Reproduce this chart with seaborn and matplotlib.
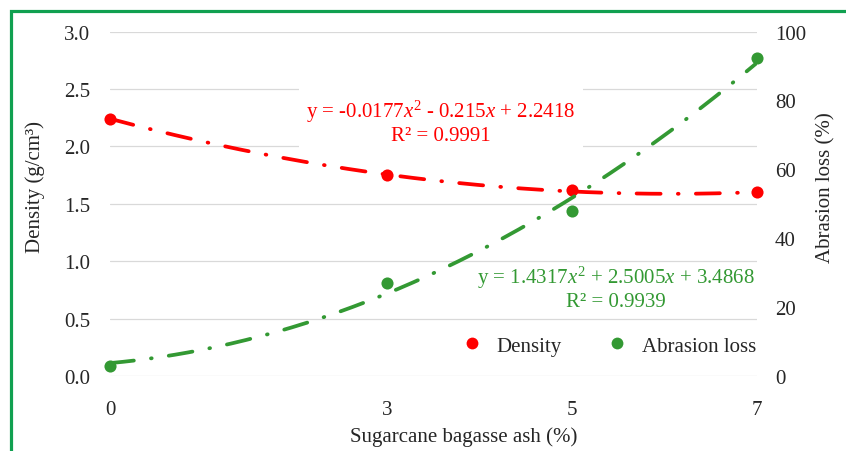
import numpy as np
import matplotlib
matplotlib.use("Agg")
import matplotlib.pyplot as plt
from matplotlib.lines import Line2D
from matplotlib.patches import Rectangle
import seaborn as sns

# Sugarcane bagasse ash content (%) and measured properties
ash_content = [0, 3, 5, 7]
density = [2.243, 1.748, 1.617, 1.600]          # g/cm3
abrasion_loss = [3.1, 27.2, 48.0, 92.3]        # %

x_ticks = [0, 3, 5, 7]
density_ticks = [0.0, 0.5, 1.0, 1.5, 2.0, 2.5, 3.0]
abrasion_ticks = [0, 20, 40, 60, 80, 100]

density_eq = "y = -0.0177$x^2$ - 0.215$x$ + 2.2418\nR² = 0.9991"
abrasion_eq = "y = 1.4317$x^2$ + 2.5005$x$ + 3.4868\nR² = 0.9939"

RED = "#ff0000"
GREEN = "#339933"
GRID = "#d9d9d9"
TEXT = "#262626"

sns.set_theme(style="white")
plt.rcParams["font.family"] = ["Liberation Serif", "DejaVu Serif"]
plt.rcParams["mathtext.fontset"] = "custom"
plt.rcParams["mathtext.rm"] = "Liberation Serif"
plt.rcParams["mathtext.it"] = "Liberation Serif:italic"

FS = 15

fig = plt.figure(figsize=(8.46, 4.52), dpi=100)
ax = fig.add_axes([0.1300, 0.1653, 0.7648, 0.7627])
ax2 = ax.twinx()
ax2.set_position(ax.get_position())

# quadratic trend lines fitted to each series
xs = np.linspace(0, 7, 300)
dens_fit = np.polyval(np.polyfit(ash_content, density, 2), xs)
abr_fit = np.polyval(np.polyfit(ash_content, abrasion_loss, 2), xs)
dash_seq = [6.4, 4.6, 0.2, 4.6]   # in units of line width

trend_d, = ax.plot(xs, dens_fit, color=RED, linewidth=2.7, zorder=3,
                   dash_capstyle="round")
trend_a, = ax2.plot(xs, abr_fit, color=GREEN, linewidth=2.7, zorder=3,
                    dash_capstyle="round")
for ln in (trend_d, trend_a):
    ln.set_dashes(dash_seq)

sns.scatterplot(x=ash_content, y=density, ax=ax, color=RED, s=76,
                linewidth=0, zorder=4, clip_on=False)
sns.scatterplot(x=ash_content, y=abrasion_loss, ax=ax2, color=GREEN, s=76,
                linewidth=0, zorder=4, clip_on=False)

# axes ranges and ticks
ax.set_xlim(0, 7)
ax.set_ylim(0, 3)
ax2.set_ylim(0, 100)
ax.set_xticks(x_ticks)
ax.set_xticklabels([str(v) for v in x_ticks])
ax.set_yticks(density_ticks)
ax.set_yticklabels([f"{v:.1f}" for v in density_ticks])
ax2.set_yticks(abrasion_ticks)
ax2.set_yticklabels([str(v) for v in abrasion_ticks])

ax.tick_params(axis="x", length=0, pad=17, labelsize=FS, labelcolor=TEXT)
ax.tick_params(axis="y", length=0, pad=14, labelsize=FS, labelcolor=TEXT)
ax2.tick_params(axis="y", length=0, pad=13, labelsize=FS, labelcolor=TEXT)

ax.yaxis.grid(True, color=GRID, lw=0.9)
ax.xaxis.grid(False)
ax2.grid(False)
ax.set_axisbelow(True)
for a in (ax, ax2):
    for s in a.spines.values():
        s.set_visible(False)
ax2.patch.set_visible(False)

ax.set_xlabel("Sugarcane bagasse ash (%)", fontsize=FS, color=TEXT)
ax.xaxis.set_label_coords(0.547, -0.146)
ax.set_ylabel("Density (g/cm³)", fontsize=FS, color=TEXT)
ax.yaxis.set_label_coords(-0.100, 0.553)
ax2.set_ylabel("Abrasion loss (%)", fontsize=FS, color=TEXT)
ax2.yaxis.set_label_coords(1.092, 0.551)

# trend line equations
ax2.text(3.58, (377.3 - 122) / 3.45, density_eq, color=RED, fontsize=FS,
         ha="center", va="center", linespacing=1.15, zorder=5,
         bbox=dict(boxstyle="square,pad=0.35", fc="white", ec="none"))
ax2.text(5.47, 25.9, abrasion_eq, color=GREEN, fontsize=FS,
         ha="center", va="center", linespacing=1.15, zorder=5)

# legend with marker-only entries
handles = [
    Line2D([], [], marker="o", ls="none", color=RED, markersize=8.5, markeredgewidth=0),
    Line2D([], [], marker="o", ls="none", color=GREEN, markersize=8.5, markeredgewidth=0),
]
ax2.legend(handles, ["Density", "Abrasion loss"], loc="center left",
           bbox_to_anchor=(0.544, 0.088), ncol=2, frameon=False,
           fontsize=FS, handlelength=1.0, handletextpad=0.67,
           columnspacing=2.16, borderpad=0, borderaxespad=0,
           labelcolor=TEXT)

# green frame around the chart
fig.add_artist(Rectangle((10.5 / 846, -0.2), 1.2, 1.2 - 11.5 / 452,
                         transform=fig.transFigure, fill=False,
                         edgecolor="#10a050", lw=2.3, zorder=10))

fig.savefig("out.png", dpi=100)
